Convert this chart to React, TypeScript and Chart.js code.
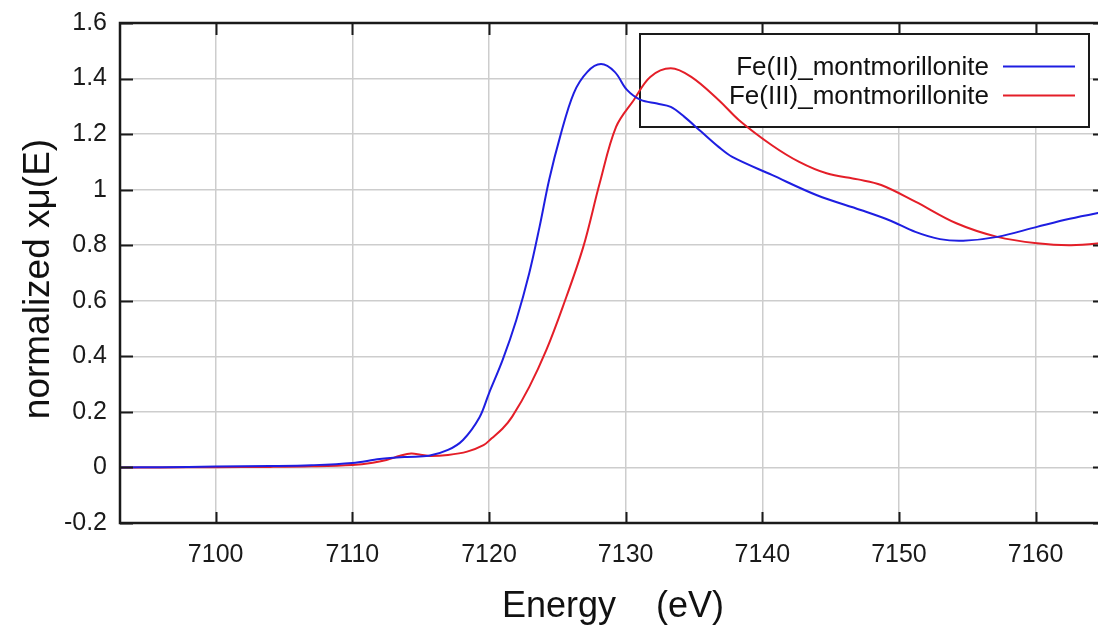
import React, { useEffect, useRef } from "react";
import { Chart, registerables } from "chart.js";

Chart.register(...registerables);

// ---- data ----
const seriesNames = ["Fe(II)_montmorillonite", "Fe(III)_montmorillonite"];
const seriesColors = ["rgb(30,30,225)", "rgb(228,30,40)"];

const energyFe2 = [
  7093, 7096, 7100, 7104, 7107, 7110, 7112, 7114, 7115.6, 7117, 7118.1, 7119.3, 7120,
  7121, 7122, 7122.95, 7123.7, 7124.4, 7125.2, 7126.2, 7127.2, 7128.2, 7129.2, 7130.1,
  7131.1, 7132.3, 7133.3, 7134.3, 7135.5, 7136.8, 7137.8, 7140.7, 7144, 7147.2, 7149.3,
  7151.2, 7153, 7154.7, 7157.2, 7160.1, 7162.5, 7165.5,
];
const muFe2 = [
  0.0, 0.001, 0.003, 0.005, 0.008, 0.016, 0.03, 0.038, 0.042, 0.063, 0.099, 0.18, 0.267,
  0.387, 0.531, 0.7, 0.866, 1.035, 1.19, 1.347, 1.424, 1.452, 1.424, 1.359,
  1.323, 1.31, 1.298, 1.262, 1.21, 1.154, 1.118, 1.053, 0.98, 0.927, 0.89,
  0.848, 0.822, 0.816, 0.83, 0.866, 0.895, 0.925,
];

const energyFe3 = [
  7093, 7096, 7100, 7104, 7107, 7110, 7111.5, 7112.5, 7113.5, 7114.3, 7115, 7115.7, 7117,
  7118.4, 7119.6, 7120.2, 7121, 7121.7, 7122.95, 7124.2, 7125.4, 7126.9, 7128.1, 7129.3,
  7130.6, 7131.8, 7133.3, 7134.8, 7136.8, 7138.3, 7140.7, 7142.7, 7144.7, 7147, 7148.7,
  7151.2, 7154.2, 7157.2, 7160.1, 7162.6, 7165.5,
];
const muFe3 = [
  0.0, 0.0, 0.001, 0.002, 0.004, 0.009, 0.017, 0.027, 0.042, 0.05, 0.046, 0.041, 0.045,
  0.057, 0.08, 0.105, 0.14, 0.183, 0.29, 0.423, 0.578, 0.794, 1.023, 1.226,
  1.323, 1.406, 1.437, 1.406, 1.323, 1.25, 1.16, 1.1, 1.059, 1.037, 1.017,
  0.957, 0.879, 0.83, 0.807, 0.8, 0.81,
];

const xTickValues = [7100, 7110, 7120, 7130, 7140, 7150, 7160];
const xTickLabels = ["7100", "7110", "7120", "7130", "7140", "7150", "7160"];
const yTickValues = [-0.2, 0, 0.2, 0.4, 0.6, 0.8, 1, 1.2, 1.4, 1.6];
const yTickLabels = ["-0.2", "0", "0.2", "0.4", "0.6", "0.8", "1", "1.2", "1.4", "1.6"];

const xTitle = "Energy    (eV)";
const yTitle = "normalized xμ(E)";

const FONT = "'Liberation Sans', Arial, sans-serif";

const framePlugin = {
  id: "frameAndLegend",
  beforeDatasetsDraw(chart: any) {
    const ctx = chart.ctx;
    ctx.save();
    // legend box
    const bx = 640, by = 34, bw = 449, bh = 93;
    ctx.fillStyle = "#ffffff";
    ctx.fillRect(bx, by, bw, bh);
    ctx.lineWidth = 2;
    ctx.strokeStyle = "#1a1a1a";
    ctx.strokeRect(bx, by, bw, bh);
    ctx.font = `26px ${FONT}`;
    ctx.fillStyle = "#111";
    ctx.textAlign = "right";
    ctx.textBaseline = "alphabetic";
    const rows = [74.5, 103.5];
    seriesNames.forEach((name, i) => {
      ctx.fillText(name, 989, rows[i]);
      ctx.strokeStyle = seriesColors[i];
      ctx.lineWidth = 2;
      ctx.beginPath();
      ctx.moveTo(1003, rows[i] - 8);
      ctx.lineTo(1075, rows[i] - 8);
      ctx.stroke();
    });
    ctx.restore();
  },
  afterDraw(chart: any) {
    const ctx = chart.ctx;
    const { left, right, top, bottom } = chart.chartArea;
    const xs = chart.scales.x;
    const ys = chart.scales.y;
    ctx.save();
    ctx.strokeStyle = "#1a1a1a";
    ctx.lineWidth = 2;
    // inner ticks
    ctx.beginPath();
    xTickValues.forEach((v) => {
      const px = Math.round(xs.getPixelForValue(v)) + 0.5;
      ctx.moveTo(px, bottom);
      ctx.lineTo(px, bottom - 11);
      ctx.moveTo(px, top);
      ctx.lineTo(px, top + 12);
    });
    yTickValues.forEach((v) => {
      const py = Math.round(ys.getPixelForValue(v)) + 0.5;
      ctx.moveTo(left, py);
      ctx.lineTo(left + 13, py);
      ctx.moveTo(right, py);
      ctx.lineTo(right - 13, py);
    });
    ctx.stroke();
    // frame
    ctx.lineWidth = 2.5;
    ctx.strokeRect(left, top, right - left, bottom - top);
    // titles
    ctx.fillStyle = "#111";
    ctx.font = `36px ${FONT}`;
    ctx.textAlign = "center";
    ctx.textBaseline = "alphabetic";
    ctx.fillText(xTitle, 613, 617);
    ctx.translate(49, 279);
    ctx.rotate(-Math.PI / 2);
    ctx.font = `37px ${FONT}`;
    ctx.fillText(yTitle, 0, 0);
    ctx.restore();
  },
};

export default function App() {
  const ref = useRef<HTMLCanvasElement | null>(null);
  useEffect(() => {
    if (!ref.current) return;
    const chart = new Chart(ref.current, {
      type: "line",
      data: {
        datasets: [
          {
            label: seriesNames[0],
            data: energyFe2.map((e, i) => ({ x: e, y: muFe2[i] })),
            borderColor: seriesColors[0],
            borderWidth: 2,
            pointRadius: 0,
            tension: 0.35,
            fill: false,
          },
          {
            label: seriesNames[1],
            data: energyFe3.map((e, i) => ({ x: e, y: muFe3[i] })),
            borderColor: seriesColors[1],
            borderWidth: 2,
            pointRadius: 0,
            tension: 0.35,
            fill: false,
          },
        ],
      },
      options: {
        responsive: false,
        animation: false,
        devicePixelRatio: 1,
        layout: { padding: { left: 0, top: 23, right: 4, bottom: 0 } },
        plugins: { legend: { display: false }, tooltip: { enabled: false } },
        scales: {
          x: {
            type: "linear",
            min: 7093.0,
            max: 7165.15,
            afterBuildTicks: (s: any) => {
              s.ticks = xTickValues.map((v) => ({ value: v }));
            },
            afterFit: (s: any) => {
              s.height = 103;
              s.paddingLeft = 0;
              s.paddingRight = 0;
            },
            ticks: {
              callback: (v: any) => {
                const i = xTickValues.indexOf(Number(v));
                return i >= 0 ? xTickLabels[i] : "";
              },
              font: { family: FONT, size: 25 },
              color: "#1a1a1a",
              padding: 17,
              maxRotation: 0,
              autoSkip: false,
            },
            grid: { color: "rgb(205,205,205)", lineWidth: 1.5, drawTicks: false },
            border: { display: false },
          },
          y: {
            type: "linear",
            min: -0.2,
            max: 1.6,
            afterBuildTicks: (s: any) => {
              s.ticks = yTickValues.map((v) => ({ value: v }));
            },
            afterFit: (s: any) => {
              s.width = 120;
              s.paddingTop = 0;
              s.paddingBottom = 0;
            },
            ticks: {
              callback: (v: any) => {
                const i = yTickValues.findIndex((t) => Math.abs(t - Number(v)) < 1e-6);
                return i >= 0 ? yTickLabels[i] : "";
              },
              font: { family: FONT, size: 25 },
              color: "#1a1a1a",
              padding: 13,
              autoSkip: false,
            },
            grid: { color: "rgb(205,205,205)", lineWidth: 1.5, drawTicks: false },
            border: { display: false },
          },
        },
      },
      plugins: [framePlugin],
    });
    return () => chart.destroy();
  }, []);
  return (
    <div
      style={{
        position: "fixed",
        left: 0,
        top: 0,
        width: 1098,
        height: 626,
        overflow: "hidden",
        background: "#fff",
      }}
    >
      <canvas ref={ref} width={1110} height={626} style={{ display: "block" }} />
    </div>
  );
}
